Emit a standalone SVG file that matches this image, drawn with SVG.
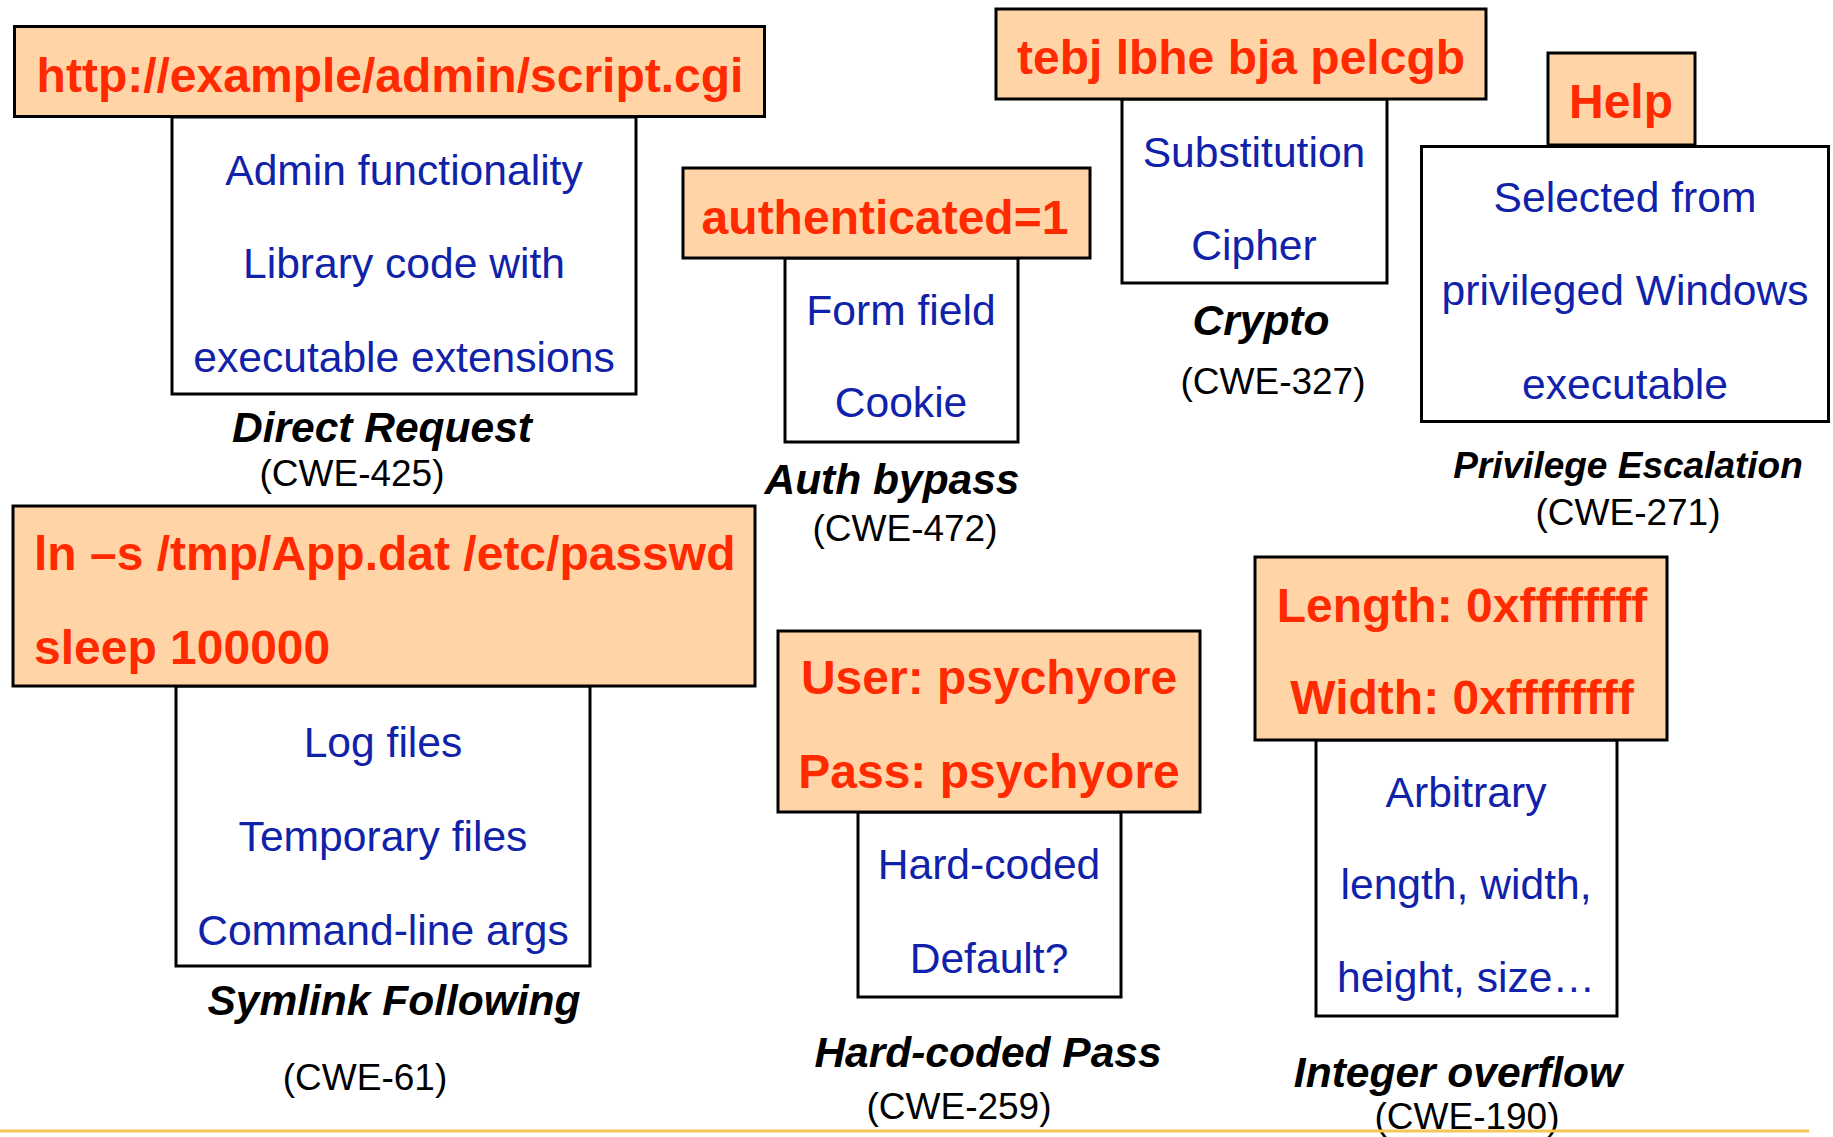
<svg xmlns="http://www.w3.org/2000/svg" width="1833" height="1137" viewBox="0 0 1833 1137">
<style>
.o{fill:#FFD5A8;stroke:#000;stroke-width:3}
.w{fill:#fff;stroke:#000;stroke-width:3}
.r{font-family:"Liberation Sans",Arial,sans-serif;font-weight:bold;font-size:48px;fill:#FF2A00;text-anchor:middle}
.b{font-family:"Liberation Sans",Arial,sans-serif;font-size:42.6px;fill:#1122AA;text-anchor:middle}
.t{font-family:"Liberation Sans",Arial,sans-serif;font-weight:bold;font-style:italic;font-size:42.5px;fill:#000;text-anchor:middle}
.c{font-family:"Liberation Sans",Arial,sans-serif;font-size:37px;fill:#000;text-anchor:middle}
</style>
<rect width="1833" height="1137" fill="#fff"/>
<g id="direct-request">
<rect class="w" x="172" y="117" width="464" height="277"/>
<rect class="o" x="14.5" y="26.5" width="750" height="90"/>
<text class="r" x="390" y="92">http://example/admin/script.cgi</text>
<text class="b" x="404" y="185">Admin functionality</text>
<text class="b" x="404" y="278">Library code with</text>
<text class="b" x="404" y="372">executable extensions</text>
<text class="t" x="382" y="442">Direct Request</text>
<text class="c" x="352" y="486">(CWE-425)</text>
</g>
<g id="auth-bypass">
<rect class="w" x="785" y="258" width="233" height="184"/>
<rect class="o" x="683" y="168" width="407" height="90"/>
<text class="r" x="885" y="234">authenticated=1</text>
<text class="b" x="901" y="325">Form field</text>
<text class="b" x="901" y="417">Cookie</text>
<text class="t" x="892" y="494">Auth bypass</text>
<text class="c" x="905" y="541">(CWE-472)</text>
</g>
<g id="crypto">
<rect class="w" x="1122" y="99" width="265" height="184"/>
<rect class="o" x="996" y="9" width="490" height="90"/>
<text class="r" x="1241" y="74">tebj lbhe bja pelcgb</text>
<text class="b" x="1254" y="167">Substitution</text>
<text class="b" x="1254" y="260">Cipher</text>
<text class="t" x="1261" y="335">Crypto</text>
<text class="c" x="1273" y="394">(CWE-327)</text>
</g>
<g id="privilege-escalation">
<rect class="o" x="1548" y="53" width="147" height="92"/>
<rect class="w" x="1421.5" y="146.5" width="407" height="275"/>
<text class="r" x="1621" y="118">Help</text>
<text class="b" x="1625" y="212">Selected from</text>
<text class="b" x="1625" y="305">privileged Windows</text>
<text class="b" x="1625" y="399">executable</text>
<text class="t" x="1628" y="478" style="font-size:37px">Privilege Escalation</text>
<text class="c" x="1628" y="525">(CWE-271)</text>
</g>
<g id="symlink-following">
<rect class="w" x="176" y="686" width="414" height="280"/>
<rect class="o" x="13" y="506" width="742" height="180"/>
<text class="r" x="34" y="570" style="text-anchor:start">ln –s /tmp/App.dat /etc/passwd</text>
<text class="r" x="34" y="664" style="text-anchor:start">sleep 100000</text>
<text class="b" x="383" y="757">Log files</text>
<text class="b" x="383" y="851">Temporary files</text>
<text class="b" x="383" y="945">Command-line args</text>
<text class="t" x="394" y="1015">Symlink Following</text>
<text class="c" x="365" y="1090">(CWE-61)</text>
</g>
<g id="hard-coded-pass">
<rect class="w" x="858" y="812" width="263" height="185"/>
<rect class="o" x="778" y="631" width="422" height="181"/>
<text class="r" x="989" y="694">User: psychyore</text>
<text class="r" x="989" y="788">Pass: psychyore</text>
<text class="b" x="989" y="879">Hard-coded</text>
<text class="b" x="989" y="973">Default?</text>
<text class="t" x="988" y="1067">Hard-coded Pass</text>
<text class="c" x="959" y="1119">(CWE-259)</text>
</g>
<g id="integer-overflow">
<rect class="w" x="1316" y="740" width="301" height="276"/>
<rect class="o" x="1255" y="557" width="412" height="183"/>
<text class="r" x="1462" y="622">Length: 0xffffffff</text>
<text class="r" x="1462" y="714">Width: 0xffffffff</text>
<text class="b" x="1466" y="807">Arbitrary</text>
<text class="b" x="1466" y="899">length, width,</text>
<text class="b" x="1466" y="992">height, size…</text>
<text class="t" x="1458" y="1087">Integer overflow</text>
<text class="c" x="1467" y="1129">(CWE-190)</text>
</g>
<g id="connectors"></g>
<line x1="0" y1="1131" x2="1809" y2="1131" stroke="#F8C55B" stroke-width="3"/>
</svg>
